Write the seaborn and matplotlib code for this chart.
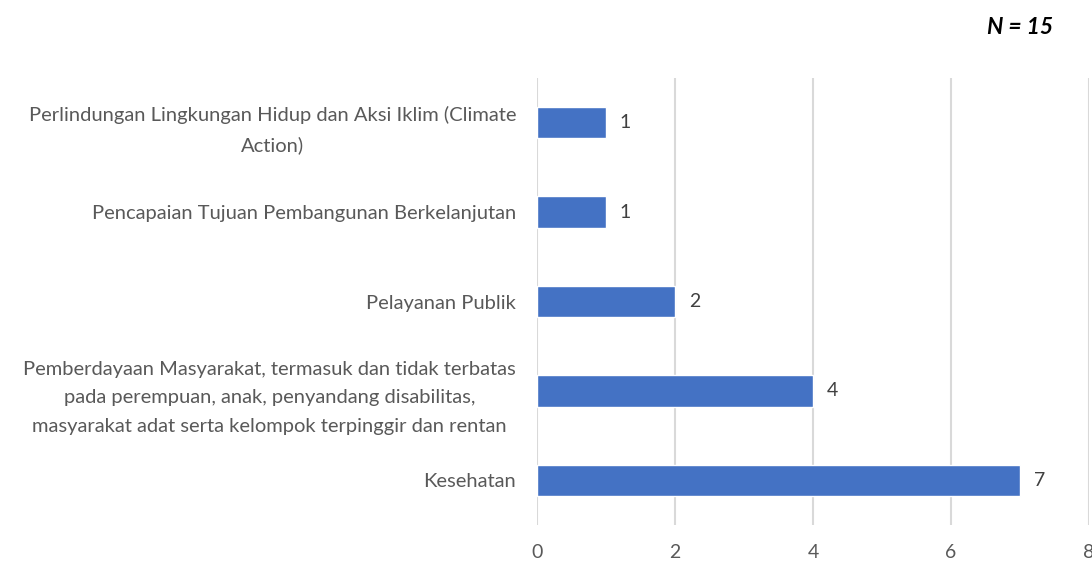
import matplotlib
matplotlib.use("Agg")
import matplotlib.pyplot as plt
import seaborn as sns
import pandas as pd

categories = [
    "Perlindungan Lingkungan Hidup dan Aksi Iklim (Climate\nAction)",
    "Pencapaian Tujuan Pembangunan Berkelanjutan",
    "Pelayanan Publik",
    "Pemberdayaan Masyarakat, termasuk dan tidak terbatas\npada perempuan, anak, penyandang disabilitas,\nmasyarakat adat serta kelompok terpinggir dan rentan",
    "Kesehatan",
]
values = [1, 1, 2, 4, 7]
xticks = [0, 2, 4, 6, 8]

sns.set_theme(style="white")
plt.rcParams["font.family"] = ["Lato", "DejaVu Sans"]

df = pd.DataFrame({"cat": categories, "val": values})

fig = plt.figure(figsize=(10.92, 5.61), dpi=100)
ax = fig.add_axes([537/1092, 1-525/561, (1089-537)/1092, (525-78)/561])

sns.barplot(data=df, x="val", y="cat", order=categories, color="#4472C4",
            saturation=1, width=0.35, ax=ax, zorder=3)

ax.set_xlim(0, 8)
ax.set_ylim(4.5, -0.5)
ax.set_xticks(xticks)
ax.set_xticklabels([str(t) for t in xticks], fontsize=14, color="#595959")
ax.grid(axis="x", color="#d9d9d9", linewidth=1.5, zorder=0)
ax.grid(axis="y", visible=False)
for s in ax.spines.values():
    s.set_visible(False)
ax.tick_params(axis="both", length=0)
ax.tick_params(axis="x", pad=14)
ax.tick_params(axis="y", pad=15)
ax.set_xlabel("")
ax.set_ylabel("")
for lab in ax.get_yticklabels():
    lab.set_fontsize(14.5)
    lab.set_color("#595959")
    lab.set_multialignment("center")
    lab.set_linespacing(1.8)

for i, v in enumerate(values):
    ax.annotate(str(v), xy=(v, i), xytext=(10, 0), textcoords="offset points",
                va="center", ha="left", fontsize=14, color="#404040")

fig.text(1053/1092, 1-27/561, "N = 15", ha="right", va="center",
         fontsize=16.5, fontweight="bold", fontstyle="italic", color="black")

fig.savefig("out.png", dpi=100)
